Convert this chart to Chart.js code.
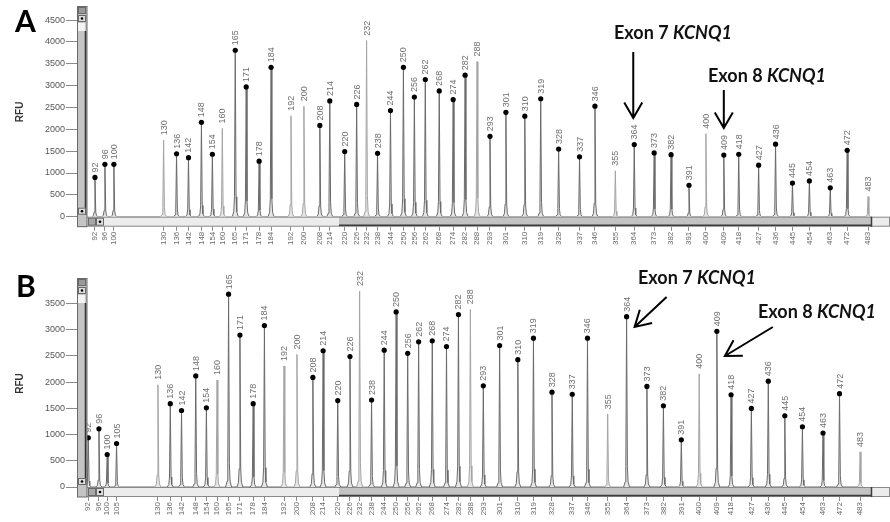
<!DOCTYPE html>
<html>
<head>
<meta charset="utf-8">
<script src="https://cdn.jsdelivr.net/npm/chart.js@4.4.1/dist/chart.umd.min.js"></script>
<style>
  html, body { margin: 0; padding: 0; background: #fff; }
  canvas { display: block; }
</style>
</head>
<body>
<canvas id="panelA" width="890" height="260"></canvas>
<canvas id="panelB" width="890" height="262"></canvas>
<script>
// ---- Panel A: probe sizes (bp), migration position, peak height (RFU) ----
const sizesA = [92, 96, 100, 130, 136, 142, 148, 154, 160, 165, 171, 178, 184, 192, 200, 208, 214, 220, 226, 232,
  238, 244, 250, 256, 262, 268, 274, 282, 288, 293, 301, 310, 319, 328, 337, 346, 355, 364, 373, 382,
  391, 400, 409, 418, 427, 436, 445, 454, 463, 472, 483];
const mobilityA = [8, 18, 27, 77, 90, 102, 115, 126, 136, 149, 160, 173, 185, 205, 218, 234, 244, 259, 271, 281,
  292, 305, 318, 329, 340, 354, 368, 380, 392, 405, 421, 440, 456, 474, 495, 510.5, 531, 550, 570, 587,
  605, 622, 640, 655, 675, 692, 709, 726, 747, 764, 785];
const rfuA = [900, 1200, 1200, 1750, 1440, 1350, 2160, 1430, 2020, 3810, 2970, 1270, 3420, 2310, 2530, 2090, 2650, 1490, 2570, 4030,
  1450, 2430, 3420, 2740, 3140, 2880, 2680, 3240, 3550, 1840, 2390, 2300, 2700, 1550, 1370, 2530, 1050, 1650, 1460, 1420,
  720, 1900, 1410, 1430, 1180, 1660, 770, 820, 660, 1520, 460];
const rfuTicksA = [0, 500, 1000, 1500, 2000, 2500, 3000, 3500, 4000, 4500];

// ---- Panel B ----
const sizesB = [92, 96, 100, 105, 130, 136, 142, 148, 154, 160, 165, 171, 178, 184, 192, 200, 208, 214, 220, 226, 232,
  238, 244, 250, 256, 262, 268, 274, 282, 288, 293, 301, 310, 319, 328, 337, 346, 355, 364, 373, 382,
  391, 400, 409, 418, 427, 436, 445, 454, 463, 472, 483];
const mobilityB = [1.3, 12, 20.3, 29.7, 71.3, 83.7, 95, 109.3, 120, 130.7, 142.3, 153.7, 167, 178.3, 198, 211, 227, 237.3, 252, 264.3, 274,
  286, 298.7, 310.7, 322.3, 333.3, 347, 361.3, 373.3, 385.3, 398.3, 414.7, 433, 448.7, 467.3, 487.7, 503, 523.3, 542.3, 562.7, 579.3,
  597.3, 615.3, 633, 647.3, 667.7, 684.7, 701.3, 719, 739.7, 756.3, 777];
const rfuB = [940, 1110, 620, 830, 1950, 1590, 1460, 2120, 1510, 2040, 3680, 2900, 1590, 3080, 2310, 2530, 2090, 2600, 1650, 2490, 3740,
  1660, 2610, 3340, 2550, 2770, 2790, 2680, 3290, 3390, 1930, 2700, 2430, 2840, 1810, 1770, 2840, 1390, 3250, 1920, 1550,
  900, 2160, 2970, 1760, 1500, 2020, 1360, 1150, 1030, 1780, 670];
const rfuTicksB = [0, 500, 1000, 1500, 2000, 2500, 3000, 3500];

// Peaks that were not sized (no call marker)
const unsizedPeaks = [130, 160, 192, 200, 232, 288, 355, 400, 483];

// ---- drawing helpers ----
// relative outline of one electrophoresis peak: [offset along run, fraction of height]
const PEAK_SHAPE = [[-3, 0], [-1.5, 0.03], [-0.8, 0.12], [0, 1], [0.8, 0.12], [1.5, 0.03], [3, 0]];

function tracePoints(pos, h) {
  const pts = [];
  pos.forEach((p, i) => PEAK_SHAPE.forEach(([dx, f]) => pts.push({ x: p + dx, y: h[i] * f })));
  return pts;
}

function calledPoints(sizes, pos, h) {
  const pts = [];
  sizes.forEach((s, i) => { if (!unsizedPeaks.includes(s)) pts.push({ x: pos[i], y: h[i] }); });
  return pts;
}

function arrow(ctx, x0, y0, x1, y1) {
  const ang = Math.atan2(y1 - y0, x1 - x0);
  const L = 18, a = Math.PI / 6;
  ctx.beginPath();
  ctx.moveTo(x0, y0); ctx.lineTo(x1, y1);
  ctx.moveTo(x1 - L * Math.cos(ang - a), y1 - L * Math.sin(ang - a));
  ctx.lineTo(x1, y1);
  ctx.lineTo(x1 - L * Math.cos(ang + a), y1 - L * Math.sin(ang + a));
  ctx.stroke();
}

function exonText(ctx, exon, x, y) {
  ctx.textBaseline = 'middle';
  ctx.textAlign = 'left';
  ctx.fillStyle = '#111';
  ctx.font = 'bold 18px Lato';
  const head = 'Exon ' + exon + ' ';
  ctx.fillText(head, x, y);
  const w = ctx.measureText(head).width;
  ctx.font = 'italic bold 18px Lato';
  ctx.fillText('KCNQ1', x + w, y);
}

function peakLabelPlugin(sizes, pos, h) {
  return {
    id: 'peakLabels',
    afterDatasetsDraw(chart) {
      const { ctx, scales: { x, y } } = chart;
      ctx.save();
      ctx.font = '9px "Liberation Sans"';
      ctx.fillStyle = '#6f6f6f';
      ctx.textAlign = 'left';
      ctx.textBaseline = 'middle';
      sizes.forEach((s, i) => {
        const px = x.getPixelForValue(pos[i]);
        const py = y.getPixelForValue(h[i]);
        ctx.save();
        ctx.translate(px + 0.5, py - 5);
        ctx.rotate(-Math.PI / 2);
        ctx.fillText(String(s), 0, 0);
        ctx.restore();
      });
      ctx.restore();
    }
  };
}

function framePlugin(panel, vTop, annotate) {
  return {
    id: 'frame',
    afterDraw(chart) {
      const { ctx, chartArea: ca } = chart;
      const bot = ca.bottom, W = chart.width;
      ctx.save();
      // horizontal range bar
      ctx.fillStyle = '#ececec';
      ctx.fillRect(77, bot, W - 77, 10);
      ctx.fillStyle = '#c3c3c3';
      ctx.fillRect(339, bot, 533, 10);
      ctx.strokeStyle = '#8a8a8a'; ctx.lineWidth = 1;
      ctx.strokeRect(77.5, bot + 0.5, W - 78, 9);
      ctx.strokeStyle = '#3c3c3c'; ctx.lineWidth = 1.5;
      ctx.beginPath(); ctx.moveTo(339, bot + 8.5); ctx.lineTo(872, bot + 8.5); ctx.moveTo(871.5, bot); ctx.lineTo(871.5, bot + 10); ctx.stroke();
      // bar buttons
      ctx.lineWidth = 1; ctx.strokeStyle = '#6a6a6a';
      ctx.fillStyle = '#a8a8a8'; ctx.fillRect(88, bot + 1.5, 7, 7); ctx.strokeRect(88.5, bot + 1.5, 7, 7);
      ctx.fillStyle = '#dedede'; ctx.fillRect(97, bot + 1.5, 7, 7); ctx.strokeRect(96.5, bot + 1.5, 7, 7);
      ctx.fillStyle = '#000'; ctx.beginPath(); ctx.arc(100, bot + 5, 1.3, 0, Math.PI * 2); ctx.fill();
      // vertical scroll bar
      ctx.fillStyle = '#c4c4c4';
      ctx.fillRect(77, vTop, 10, bot - vTop + 10);
      ctx.strokeStyle = '#6a6a6a';
      ctx.strokeRect(77.5, vTop + 0.5, 9.5, bot - vTop + 9.5);
      ctx.fillStyle = '#f4f4f4'; ctx.fillRect(78, vTop + 17, 7, 8);
      ctx.strokeStyle = '#333'; ctx.lineWidth = 1.5;
      ctx.beginPath(); ctx.moveTo(85.5, vTop + 25); ctx.lineTo(85.5, bot - 2); ctx.stroke();
      ctx.lineWidth = 1; ctx.strokeStyle = '#6a6a6a';
      ctx.fillStyle = '#9a9a9a'; ctx.fillRect(78.5, vTop + 1.5, 7, 6); ctx.strokeRect(78.5, vTop + 1.5, 7, 6);
      ctx.fillStyle = '#dedede'; ctx.fillRect(78.5, vTop + 9.5, 7, 6); ctx.strokeRect(78.5, vTop + 9.5, 7, 6);
      ctx.fillRect(78.5, bot - 8.5, 7, 6); ctx.strokeRect(78.5, bot - 8.5, 7, 6);
      ctx.fillStyle = '#000';
      ctx.beginPath(); ctx.arc(82, vTop + 12.5, 1.3, 0, Math.PI * 2); ctx.fill();
      ctx.beginPath(); ctx.arc(82, bot - 5.5, 1.3, 0, Math.PI * 2); ctx.fill();
      // panel letter
      ctx.fillStyle = '#000';
      ctx.font = 'bold 30px Lato';
      ctx.textAlign = 'left'; ctx.textBaseline = 'alphabetic';
      ctx.fillText(panel.letter, panel.lx, panel.ly);
      // exon annotations
      ctx.strokeStyle = '#000'; ctx.lineWidth = 2; ctx.lineCap = 'butt';
      annotate(ctx, chart);
      ctx.restore();
    }
  };
}

function makeChart(id, sizes, pos, h, rfuTicks, yMax, padTop, xHeight, panel, vTop, annotate) {
  const called = sizes.map(s => !unsizedPeaks.includes(s));
  return new Chart(document.getElementById(id), {
    type: 'line',
    data: {
      datasets: [
        {
          label: 'sized peaks',
          data: calledPoints(sizes, pos, h),
          showLine: false,
          pointRadius: 2.6,
          pointBackgroundColor: '#000',
          pointBorderWidth: 0
        },
        {
          label: 'trace',
          data: tracePoints(pos, h),
          pointRadius: 0,
          borderWidth: 1,
          borderColor: '#8c8c8c',
          segment: {
            borderColor: c => called[Math.floor(c.p0DataIndex / PEAK_SHAPE.length)] ? '#6a6a6a' : '#a4a4a4'
          },
          fill: 'origin',
          backgroundColor: '#e6e6e6',
          tension: 0
        }
      ]
    },
    options: {
      responsive: false,
      animation: false,
      events: [],
      layout: { padding: { top: padTop, right: 0, left: 0, bottom: 0 } },
      plugins: { legend: { display: false }, tooltip: { enabled: false } },
      scales: {
        x: {
          type: 'linear', min: 0, max: 803,
          afterFit(s) { s.height = xHeight; },
          afterBuildTicks(s) { s.ticks = pos.map(v => ({ value: v })); },
          border: { display: false },
          grid: { drawOnChartArea: false, tickLength: 14, tickColor: '#8a8a8a' },
          ticks: {
            autoSkip: false, minRotation: 90, maxRotation: 90, padding: 1,
            color: '#6a6a6a', font: { size: 8, family: 'Liberation Sans' },
            callback: (v, i) => String(sizes[i])
          }
        },
        y: {
          min: 0, max: yMax,
          afterFit(s) { s.width = 87; },
          afterBuildTicks(s) { s.ticks = rfuTicks.map(v => ({ value: v })); },
          border: { display: false },
          grid: { drawOnChartArea: false, tickLength: 21, tickColor: '#8a8a8a' },
          ticks: { autoSkip: false, padding: 1, color: '#555', font: { size: 9, family: 'Liberation Sans' },
                   callback: v => String(v) },
          title: { display: true, text: 'RFU', color: '#333', font: { size: 10, weight: 'bold', family: 'Liberation Sans' }, padding: { top: 14, bottom: 0 } }
        }
      }
    },
    plugins: [peakLabelPlugin(sizes, pos, h), framePlugin(panel, vTop, annotate)]
  });
}

makeChart('panelA', sizesA, mobilityA, rfuA, rfuTicksA, 4800, 7, 43.3, { letter: 'A', lx: 15, ly: 32 }, 6, (ctx, chart) => {
  const x = chart.scales.x;
  const x7 = x.getPixelForValue(mobilityA[sizesA.indexOf(364)]);
  const x8 = x.getPixelForValue(mobilityA[sizesA.indexOf(409)]);
  exonText(ctx, 7, 614, 33);
  exonText(ctx, 8, 708, 76);
  arrow(ctx, x7 - 1, 52, x7 - 1, 118);
  arrow(ctx, x8, 90, x8, 128);
});

makeChart('panelB', sizesB, mobilityB, rfuB, rfuTicksB, 3950, 20, 35, { letter: 'B', lx: 16, ly: 37 }, 18, (ctx, chart) => {
  const x = chart.scales.x;
  const x7 = x.getPixelForValue(mobilityB[sizesB.indexOf(364)]);
  const x8 = x.getPixelForValue(mobilityB[sizesB.indexOf(409)]);
  exonText(ctx, 7, 638, 18);
  exonText(ctx, 8, 758, 52);
  arrow(ctx, x7 + 40, 37, x7 + 8, 67);
  arrow(ctx, x8 + 56, 67, x8 + 8, 96);
});
</script>
</body>
</html>
